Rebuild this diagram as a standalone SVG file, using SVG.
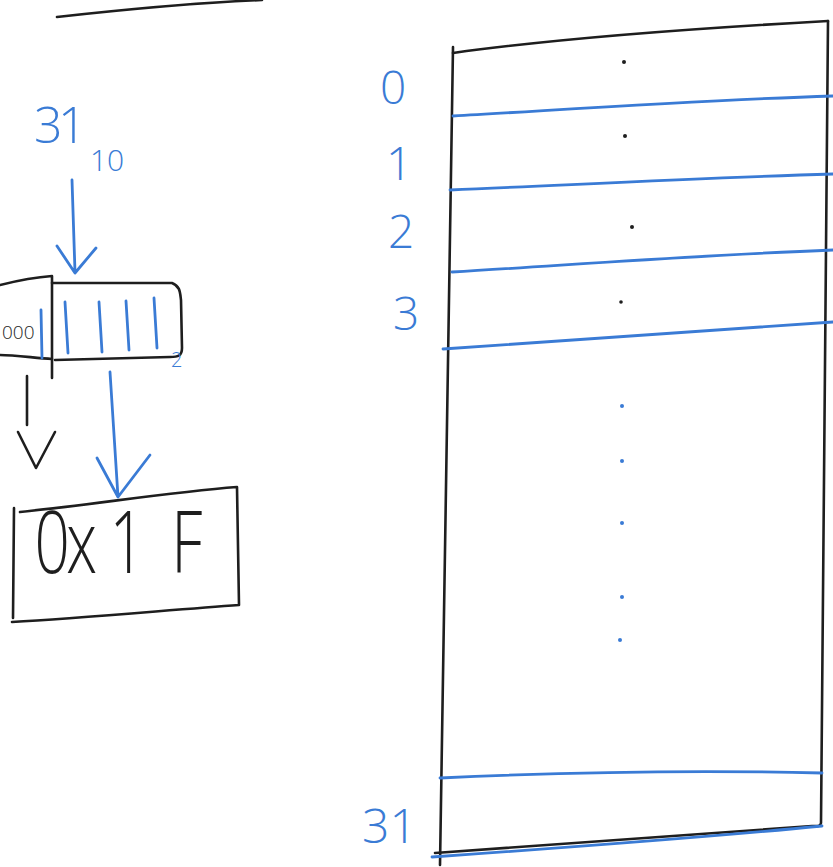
<svg xmlns="http://www.w3.org/2000/svg" width="833" height="867" viewBox="0 0 833 867">
  <style>
    .ink { fill: none; stroke: #1e1e1e; stroke-width: 2.6; stroke-linecap: round; stroke-linejoin: round; }
    .pen { fill: none; stroke: #3a7bd5; stroke-width: 2.8; stroke-linecap: round; stroke-linejoin: round; }
    .bt { fill: #3a7bd5; font-family: "Open Sans", "Liberation Sans", sans-serif; font-weight: 300; }
    .kt { fill: #1e1e1e; font-family: "Open Sans", "Liberation Sans", sans-serif; font-weight: 300; }
    .dot { fill: #1e1e1e; }
    .bdot { fill: #3a7bd5; }
  </style>
  <rect width="833" height="867" fill="#ffffff"/>

  <!-- stroke along the top edge -->
  <path class="ink" d="M57 17 C120 10 190 3 262 0"/>

  <!-- decimal input -->
  <g id="decimal">
    <text class="bt" x="34 58" y="143" font-size="50">31</text>
    <text class="bt" x="90" y="171" font-size="30">10</text>
  </g>

  <!-- binary register: upper bits and low five bits -->
  <g id="register">
    <path class="ink" d="M0 285 C20 280 38 277 52 276 L52 378"/>
    <path class="ink" d="M0 355 C15 355 35 358 52 359"/>
    <path class="ink" d="M52 283 L172 283 C180 286 180 292 181 300 L182 348 C182 356 178 357 170 357 L55 360"/>
    <text class="kt" x="2" y="339" font-size="19">000</text>
    <path class="pen" d="M41 310 L42 358"/>
    <path class="pen" d="M65 302 L68 353"/>
    <path class="pen" d="M99 302 L102 352"/>
    <path class="pen" d="M126 301 L129 350"/>
    <path class="pen" d="M154 298 L157 348"/>
    <text class="bt" x="171" y="367" font-size="20">2</text>
  </g>

  <!-- hex result -->
  <g id="hex">
    <path class="ink" d="M20 512 C90 505 170 492 237 487 L239 605 C170 610 80 618 12 622 M14 508 L13 618"/>
    <text class="kt" font-size="86" transform="scale(0.72 1)" x="48 92 152 238" y="573">0x1F</text>
  </g>

  <!-- arrows -->
  <g id="connectors">
    <path class="pen" d="M72 180 L75 272 M57 246 L75 273 L96 248"/>
    <path class="ink" d="M27 376 L27 425 M18 432 L36 468 L55 432"/>
    <path class="pen" d="M110 372 L118 497 M97 458 L118 497 L150 455"/>
  </g>

  <!-- register file: 32 rows -->
  <g id="table">
    <path class="ink" d="M453 47 L440 865"/>
    <path class="ink" d="M453 53 C560 38 700 28 828 21"/>
    <path class="ink" d="M828 21 L821 823 C820 827 818 826 812 826 L435 853"/>
    <path class="pen" d="M453 116 C560 110 700 100 833 96"/>
    <path class="pen" d="M450 190 C570 185 700 178 833 174"/>
    <path class="pen" d="M452 272 C570 265 700 255 833 250"/>
    <path class="pen" d="M443 349 C570 340 700 330 833 322"/>
    <path class="pen" d="M440 778 C570 772 700 770 822 773"/>
    <path class="pen" d="M432 857 C560 848 700 838 822 826"/>
    <circle class="dot" cx="624" cy="62" r="2"/>
    <circle class="dot" cx="625" cy="136" r="2"/>
    <circle class="dot" cx="632" cy="227" r="2"/>
    <circle class="dot" cx="621" cy="302" r="1.8"/>
    <circle class="bdot" cx="622" cy="406" r="2"/>
    <circle class="bdot" cx="622" cy="461" r="2"/>
    <circle class="bdot" cx="622" cy="523" r="2"/>
    <circle class="bdot" cx="622" cy="597" r="2"/>
    <circle class="bdot" cx="620" cy="640" r="2"/>
  </g>

  <!-- row indices -->
  <g id="indices">
    <text class="bt" x="380" y="104" font-size="46">0</text>
    <text class="bt" x="386" y="180" font-size="46">1</text>
    <text class="bt" x="388" y="248" font-size="46">2</text>
    <text class="bt" x="393" y="330" font-size="46">3</text>
    <text class="bt" x="362" y="843" font-size="48">31</text>
  </g>
</svg>
